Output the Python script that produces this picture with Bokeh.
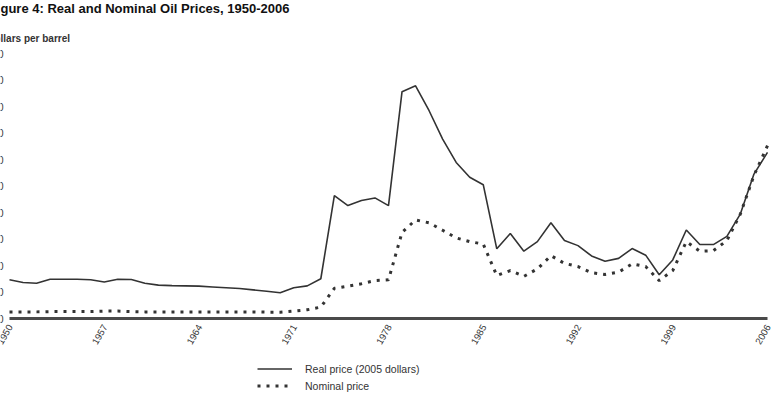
from bokeh.plotting import figure
from bokeh.models import Range1d, Label, Legend, LegendItem, ColumnDataSource
from bokeh.embed import file_html
from bokeh.resources import INLINE
import math

years = list(range(1950, 2007))
real_price = [14.6, 13.6, 13.3, 14.8, 14.8, 14.8, 14.6, 13.8, 14.8, 14.7,
              13.3, 12.6, 12.4, 12.3, 12.2, 11.9, 11.6, 11.3, 10.8, 10.3,
              9.7, 11.6, 12.3, 15.0, 46.4, 42.6, 44.5, 45.5, 42.6, 85.6,
              87.8, 78.4, 67.7, 58.9, 53.3, 50.5, 26.3, 32.1, 25.4, 29.0,
              36.1, 29.4, 27.5, 23.6, 21.6, 22.7, 26.4, 23.9, 16.5, 22.1,
              33.4, 27.9, 27.9, 31.0, 39.5, 54.5, 62.7]
nominal_price = [2.5, 2.5, 2.5, 2.6, 2.6, 2.6, 2.6, 2.8, 2.8, 2.6,
                 2.5, 2.5, 2.5, 2.5, 2.5, 2.5, 2.5, 2.5, 2.5, 2.4,
                 2.4, 2.8, 3.3, 4.3, 11.4, 12.2, 13.1, 14.3, 14.6, 32.5,
                 37.2, 36.1, 33.3, 30.4, 29.0, 28.1, 16.2, 18.1, 15.9, 18.7,
                 23.7, 20.8, 19.6, 17.3, 16.6, 17.5, 20.6, 19.6, 14.3, 18.1,
                 29.0, 25.4, 25.6, 29.4, 39.5, 54.0, 65.2]
x_ticks = list(range(1950, 2007, 7))
y_ticks = list(range(0, 101, 10))
title_text = "Figure 4: Real and Nominal Oil Prices, 1950-2006"
unit_text = "Dollars per barrel"
series_names = ["Real price (2005 dollars)", "Nominal price"]

FONT = "Liberation Sans"
INK = "#333333"

W, H = 776, 396
LEFT, RIGHT, TOP, BOTTOM = 9, 9, 53, 78
x0, x1 = years[0], years[-1]
y0, y1 = y_ticks[0], y_ticks[-1]
px_x = (W - LEFT - RIGHT) / (x1 - x0)
px_y = (H - TOP - BOTTOM) / (y1 - y0)

src = ColumnDataSource(dict(year=years, real=real_price, nominal=nominal_price))

p = figure(width=W, height=H, output_backend="svg", toolbar_location=None,
           x_range=Range1d(x0 - LEFT / px_x, x1 + RIGHT / px_x),
           y_range=Range1d(y0 - BOTTOM / px_y, y1 + TOP / px_y),
           x_axis_location=None, y_axis_location=None,
           min_border=0)
p.outline_line_color = None
p.xgrid.visible = False
p.ygrid.visible = False
p.background_fill_color = "white"
p.border_fill_color = "white"

# category axis line
p.segment(x0=[x0], y0=[y0], x1=[x1], y1=[y0], line_color="#4a4a4a", line_width=3)

r1 = p.line("year", "real", source=src, line_color=INK, line_width=1.6)
r2 = p.line("year", "nominal", source=src, line_color=INK, line_width=3,
            line_dash="3 6")

for t in x_ticks:
    p.add_layout(Label(x=t, y=y0, y_offset=-7, x_offset=1, text=str(t), angle=math.pi / 3,
                       text_align="right", text_baseline="middle", text_font=FONT,
                       text_font_size="9.5px", text_color=INK))

for t in y_ticks:
    p.add_layout(Label(x=x0, y=t, x_offset=-6, text=str(t), text_align="right",
                       text_baseline="middle", text_font=FONT, text_font_size="10px",
                       text_color=INK))

p.add_layout(Label(x=x0, y=y1, x_offset=-20.6, y_offset=45.4, text=title_text,
                   text_align="left", text_baseline="alphabetic", text_font=FONT,
                   text_font_size="13px", text_font_style="bold", text_color="#111111"))
p.add_layout(Label(x=x0, y=y1, x_offset=-22.3, y_offset=15.5, text=unit_text,
                   text_align="left", text_baseline="alphabetic", text_font=FONT,
                   text_font_size="10px", text_font_style="bold", text_color=INK))

legend = Legend(items=[LegendItem(label=series_names[0], renderers=[r1]),
                       LegendItem(label=series_names[1], renderers=[r2])],
                location=(257, 2), orientation="vertical",
                glyph_width=35, glyph_height=17, label_height=17, spacing=0,
                padding=0, margin=0, label_standoff=13,
                border_line_color=None, background_fill_alpha=0,
                label_text_font=FONT, label_text_font_size="10.5px",
                label_text_color=INK, label_text_baseline="middle")
p.add_layout(legend, "center")

open("out.html", "w").write(file_html(p, INLINE))
